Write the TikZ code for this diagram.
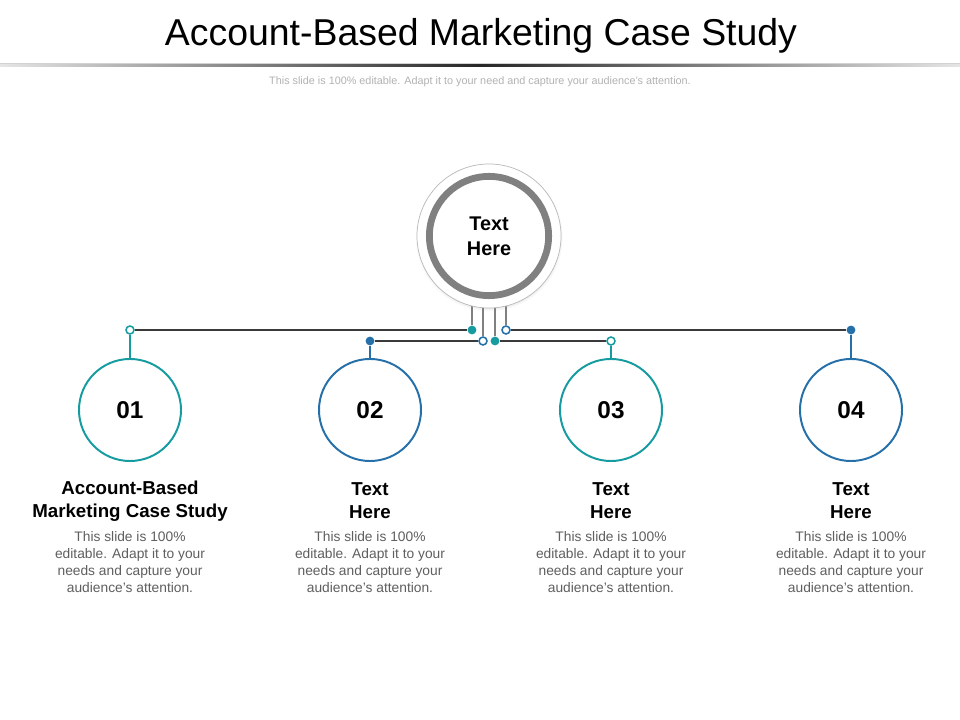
\documentclass[tikz,border=0pt]{standalone}
\usepackage{fontspec}
\setmainfont{Liberation Sans}
\usepackage{tikz}
\usetikzlibrary{shadows}
\usetikzlibrary{backgrounds}
\definecolor{tealc}{RGB}{22,156,160}
\definecolor{bluec}{RGB}{38,112,170}
\definecolor{busc}{RGB}{58,58,58}
\definecolor{stemc}{RGB}{128,128,128}
\definecolor{bodyc}{RGB}{95,95,95}
\newcommand{\numfont}{\fontsize{17.3}{20}\selectfont\bfseries}
\newcommand{\headfont}{\fontsize{13.3}{16.4}\selectfont\bfseries}
\newcommand{\bodyfont}{\fontsize{9.8}{12.1}\selectfont}

\tikzset{
  numcirc/.style={circle, draw=#1, line width=1.4pt, fill=white,
    minimum size=2.55cm, inner sep=0pt, font=\numfont},
  fulldot/.style={circle, fill=#1, inner sep=0pt, minimum size=0.22cm},
  opendot/.style={circle, draw=#1, fill=white, line width=1.1pt,
    inner sep=0pt, minimum size=0.2cm},
  bus/.style={draw=busc, line width=1.4pt},
  stem/.style={draw=stemc, line width=1.3pt},
  headtext/.style={align=center, font=\headfont},
  bodytext/.style={align=center, font=\bodyfont, text=bodyc},
}

\begin{document}
\begin{tikzpicture}[x=0.025cm,y=-0.025cm]
        \useasboundingbox (0,0) rectangle (960,720);
        \begin{scope}[on background layer]
         \fill[white] (0,0) rectangle (960,720);
        \end{scope}
        % Title
        \node[font=\fontsize{26.6}{30}\selectfont] (title) at (481,35.5)
          {Account-Based Marketing Case Study};
        \draw[gray!35, line width=0.5pt] (0,63) -- (960,63);
        \shade[left color=gray!20, right color=gray!20, middle color=black!85]
          (0,64.5) rectangle (960,66.5);
        \node[font=\fontsize{7.7}{9}\selectfont, text=gray!60] (subtitle) at (480,82)
          {This slide is 100\% editable. Adapt it to your need and capture your audience's attention.};
        % Hub
        \node[circle, draw=gray!55, line width=0.5pt, fill=white, minimum size=3.6cm,
          align=center, font=\fontsize{14.1}{17.8}\selectfont\bfseries,
          circular drop shadow={shadow xshift=0pt, shadow yshift=-1pt,
            shadow scale=1.025, opacity=0.4}] (hub) at (489,236) {Text\\Here};
        \draw[stemc, line width=0.17cm] (hub.center) circle (1.49cm);
        % Dots on the hub side
        \node[fulldot=tealc] (h1) at (472,330) {};
        \node[opendot=bluec] (h2) at (483,341) {};
        \node[fulldot=tealc] (h3) at (495,341) {};
        \node[opendot=bluec] (h4) at (506,330) {};
        % Dots above the items
        \node[opendot=tealc] (d1) at (130,330) {};
        \node[fulldot=bluec] (d2) at (370,341) {};
        \node[opendot=tealc] (d3) at (611,341) {};
        \node[fulldot=bluec] (d4) at (851,330) {};
        % Item circles
        \node[numcirc=tealc] (c1) at (130,410) {01};
        \node[numcirc=bluec] (c2) at (370,410) {02};
        \node[numcirc=tealc] (c3) at (611,410) {03};
        \node[numcirc=bluec] (c4) at (851,410) {04};
        %
        % Connectors:
        \begin{scope}[on background layer]
         \draw[stem] (h1) -- (h1 |- hub.center);
         \draw[stem] (h2) -- (h2 |- hub.center);
         \draw[stem] (h3) -- (h3 |- hub.center);
         \draw[stem] (h4) -- (h4 |- hub.center);
        \end{scope}
         \draw[bus] (d1) -- (h1);
         \draw[bus] (d2) -- (h2);
         \draw[bus] (h3) -- (d3);
         \draw[bus] (h4) -- (d4);
         \draw[tealc, line width=1.4pt] (d1) -- (c1);
         \draw[bluec, line width=1.4pt] (d2) -- (c2);
         \draw[tealc, line width=1.4pt] (d3) -- (c3);
         \draw[bluec, line width=1.4pt] (d4) -- (c4);
        % Item texts
        \node[headtext] (t1) at (130,501) {Account-Based\\Marketing Case Study};
        \node[headtext] (t2) at (370,501) {Text\\Here};
        \node[headtext] (t3) at (611,501) {Text\\Here};
        \node[headtext] (t4) at (851,501) {Text\\Here};
        \node[bodytext] (b1) at (130,562.5) {This slide is 100\%\\editable. Adapt it to your\\needs and capture your\\audience's attention.};
        \node[bodytext] (b2) at (370,562.5) {This slide is 100\%\\editable. Adapt it to your\\needs and capture your\\audience's attention.};
        \node[bodytext] (b3) at (611,562.5) {This slide is 100\%\\editable. Adapt it to your\\needs and capture your\\audience's attention.};
        \node[bodytext] (b4) at (851,562.5) {This slide is 100\%\\editable. Adapt it to your\\needs and capture your\\audience's attention.};
\end{tikzpicture}
\end{document}
